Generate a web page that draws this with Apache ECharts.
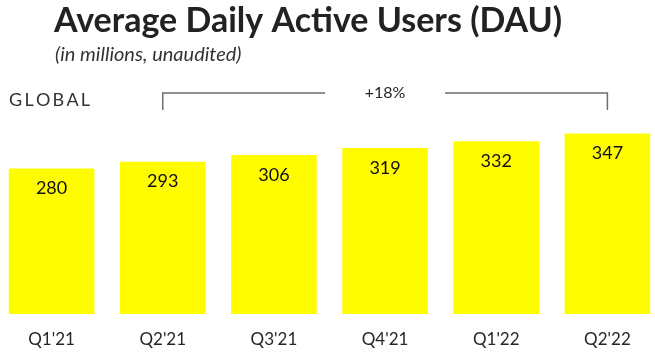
<!DOCTYPE html>
<html>
<head>
<meta charset="utf-8">
<script src="https://cdn.jsdelivr.net/npm/echarts@6/dist/echarts.min.js"></script>
<style>
    html, body { margin: 0; padding: 0; background: #fff; }
    #chart { width: 655px; height: 352px; }
</style>
</head>
<body>
<div id="chart"></div>
<script>
var quarters = ["Q1'21", "Q2'21", "Q3'21", "Q4'21", "Q1'22", "Q2'22"];
var dau = [280, 293, 306, 319, 332, 347];
var growthFrom = "Q2'21";
var growthTo = "Q2'22";
var growthLabel = '+18%';

var fontName = 'Lato';

var myChart = echarts.init(document.getElementById('chart'));

var option = {
    backgroundColor: '#fff',
    animation: false,
    title: [
        {
            text: 'Average Daily Active Users (DAU)',
            left: 54,
            top: 1,
            padding: 0,
            textStyle: { fontFamily: fontName, fontWeight: 'bold', fontSize: 34, color: '#222', lineHeight: 40 }
        },
        {
            text: '(in millions, unaudited)',
            left: 55,
            top: 44,
            padding: 0,
            textStyle: { fontFamily: fontName, fontStyle: 'italic', fontWeight: 'normal', fontSize: 20, color: '#333', lineHeight: 22 }
        },
        {
            text: 'GLOBAL'.split('').join('\u2009'),
            left: 9,
            top: 90,
            padding: 0,
            textStyle: { fontFamily: fontName, fontWeight: 'normal', fontSize: 18, color: '#333', lineHeight: 20 }
        }
    ],
    grid: {
        left: -4,
        right: -8,
        top: 132,
        bottom: 38,
        outerBoundsMode: 'none',
        containLabel: false
    },
    xAxis: {
        type: 'category',
        data: quarters,
        axisLine: { show: false },
        axisTick: { show: false },
        axisLabel: {
            margin: 16,
            fontFamily: fontName,
            fontSize: 17,
            color: '#262626',
            lineHeight: 20
        }
    },
    yAxis: {
        type: 'value',
        min: 0,
        max: 350,
        show: false,
        splitLine: { show: false }
    },
    series: [{
        type: 'bar',
        data: dau,
        barCategoryGap: '23%',
        itemStyle: { color: '#FFFC00' },
        label: {
            show: true,
            position: 'insideTop',
            distance: 10,
            fontFamily: fontName,
            fontSize: 18,
            lineHeight: 20,
            color: '#111'
        }
    }]
};

myChart.setOption(option);

// growth bracket between two quarters
var x1 = myChart.convertToPixel({ xAxisIndex: 0 }, growthFrom);
var x2 = myChart.convertToPixel({ xAxisIndex: 0 }, growthTo);
var lineY = 93;
var lineBottom = 110;
var textX = (x1 + x2) / 2;
var lineStyle = { stroke: '#6e6e6e', lineWidth: 1.5 };

myChart.setOption({
    graphic: [
        {
            type: 'polyline',
            shape: { points: [[x1, lineBottom], [x1, lineY], [textX - 60, lineY]] },
            style: lineStyle
        },
        {
            type: 'polyline',
            shape: { points: [[textX + 60, lineY], [x2, lineY], [x2, lineBottom]] },
            style: lineStyle
        },
        {
            type: 'text',
            x: textX,
            y: lineY,
            style: {
                text: growthLabel,
                fontFamily: fontName,
                fontSize: 16,
                fill: '#262626',
                align: 'center',
                verticalAlign: 'middle'
            }
        }
    ]
});
</script>
</body>
</html>
